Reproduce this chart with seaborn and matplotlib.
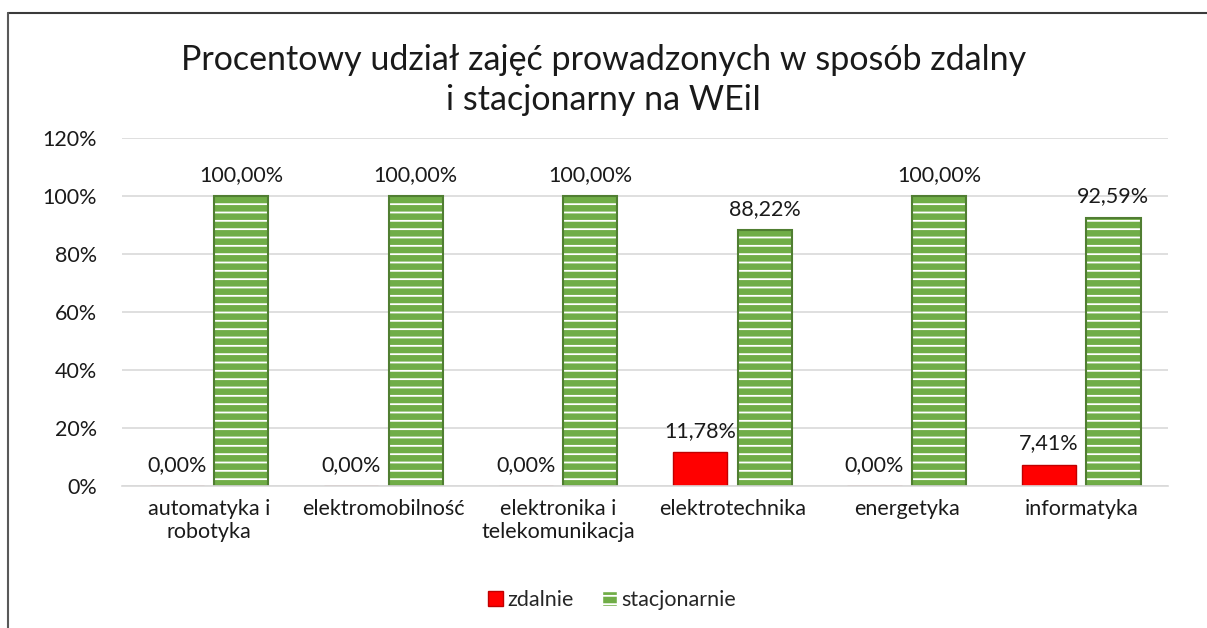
import numpy as np
import pandas as pd
import seaborn as sns
import matplotlib.pyplot as plt
from matplotlib.patches import Patch, Rectangle
from matplotlib.lines import Line2D

# data
kierunki = ["automatyka i\nrobotyka", "elektromobilność", "elektronika i\ntelekomunikacja",
            "elektrotechnika", "energetyka", "informatyka"]
zdalnie = [0.00, 0.00, 0.00, 11.78, 0.00, 7.41]
stacjonarnie = [100.00, 100.00, 100.00, 88.22, 100.00, 92.59]
serie = ["zdalnie", "stacjonarnie"]
y_ticks = [0, 20, 40, 60, 80, 100, 120]

df = pd.DataFrame({
    "kierunek": kierunki * 2,
    "forma": [serie[0]] * len(kierunki) + [serie[1]] * len(kierunki),
    "udzial": zdalnie + stacjonarnie,
})

sns.set_theme(style="white")
plt.rcParams["font.family"] = ["Lato", "DejaVu Sans"]
plt.rcParams["hatch.linewidth"] = 1.3

red = "#FF0000"
green = "#70AD47"
dark_green = "#507E32"
txt = "#1a1a1a"
fs = 15.5

fig, ax = plt.subplots(figsize=(12.07, 6.28), dpi=100)
fig.subplots_adjust(left=0.101, right=0.968, bottom=0.226, top=0.780)

sns.barplot(data=df, x="kierunek", y="udzial", hue="forma", hue_order=serie,
            palette=[red, green], saturation=1, width=0.74, gap=0.16, ax=ax, legend=False)

# style the bars: red with dark edge, green with white dash pattern
for cont, name in zip(ax.containers, serie):
    for p in cont:
        if name == "zdalnie":
            p.set_edgecolor("#C00000")
            p.set_linewidth(1.0)
        else:
            p.set_edgecolor("white")
            p.set_hatch("--")
            p.set_linewidth(0)
            ax.add_patch(Rectangle(p.get_xy(), p.get_width(), p.get_height(),
                                   fill=False, edgecolor=dark_green, linewidth=1.5, zorder=p.get_zorder() + 0.1))
    labels = [f"{v:.2f}%".replace(".", ",") for v in cont.datavalues]
    ax.bar_label(cont, labels=labels, padding=8, fontsize=fs, color=txt)

ax.set_ylim(0, 120)
ax.set_yticks(y_ticks)
ax.set_yticklabels([f"{t}%" for t in y_ticks])
ax.yaxis.grid(True, color="#D9D9D9", linewidth=1.2)
ax.set_axisbelow(True)
for s in ["top", "right", "left"]:
    ax.spines[s].set_visible(False)
ax.spines["bottom"].set_color("#D9D9D9")
ax.spines["bottom"].set_linewidth(1.2)
ax.tick_params(axis="both", length=0, labelsize=fs, labelcolor=txt)
ax.tick_params(axis="y", pad=18)
ax.tick_params(axis="x", pad=9)
ax.set_xlabel("")
ax.set_ylabel("")

fig.suptitle("Procentowy udział zajęć prowadzonych w sposób zdalny\ni stacjonarny na WEiI",
             fontsize=24.5, y=0.93, color=txt, linespacing=1.3)

handles = [Patch(facecolor=red, edgecolor="#C00000", label=serie[0]),
           Patch(facecolor=green, edgecolor="white", hatch="--", label=serie[1])]
fig.legend(handles=handles, loc="center", bbox_to_anchor=(0.507, 0.045), ncol=2, frameon=False,
           fontsize=fs, handlelength=0.7, handleheight=0.7, handletextpad=0.2, columnspacing=1.3)

# chart border (top and left only visible)
fig.add_artist(Line2D([0.0066, 1.0], [0.979, 0.979], transform=fig.transFigure, color="#3a3a3a", linewidth=1.5))
fig.add_artist(Line2D([0.0066, 0.0066], [0.0, 0.979], transform=fig.transFigure, color="#595959", linewidth=1.5))

fig.savefig("out.png", dpi=100, facecolor="white")
